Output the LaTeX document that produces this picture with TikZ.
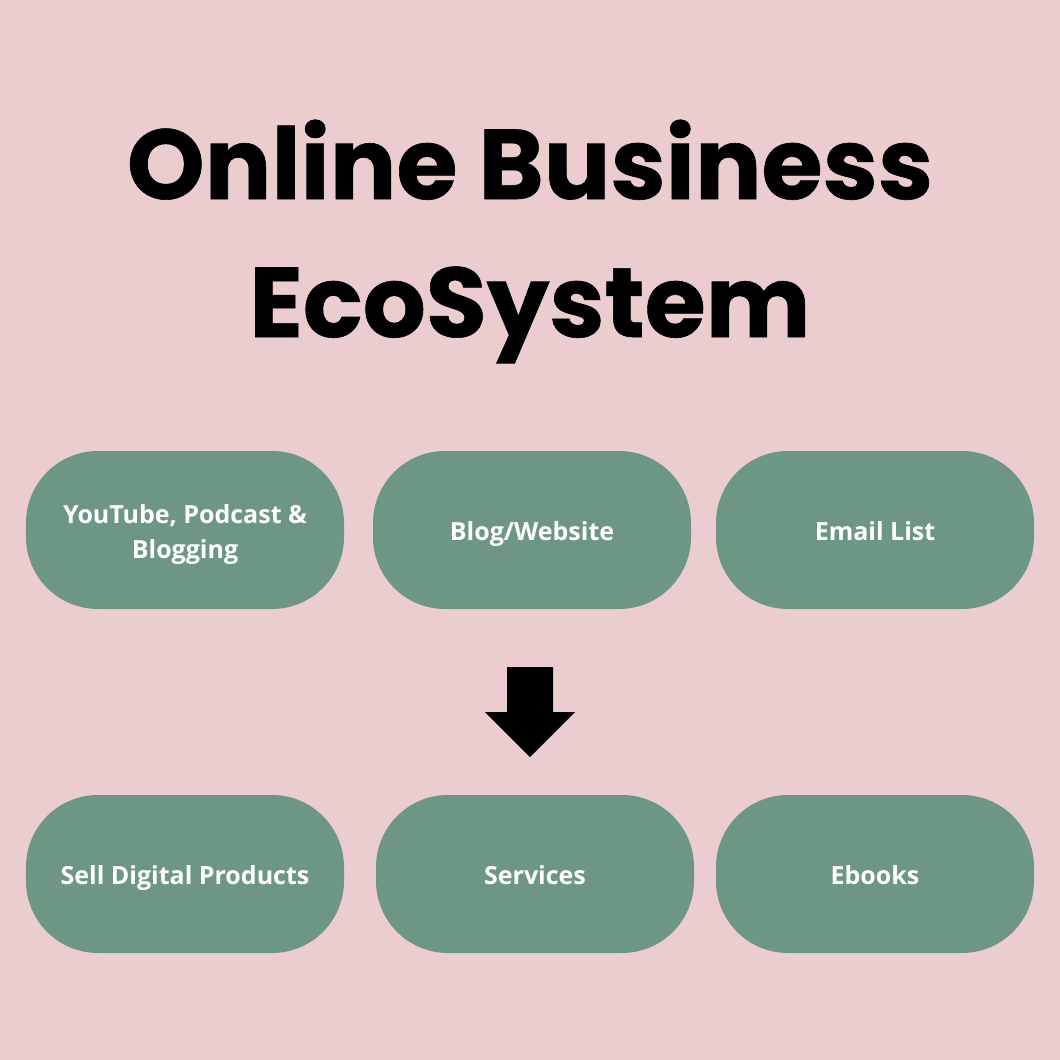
\documentclass[tikz,border=0pt]{standalone}
\usepackage{fontspec}
\setmainfont{Open Sans}
\newfontfamily\titlefont[FakeBold=0.6]{Poppins}
\definecolor{bgpink}{HTML}{EBCDD0}
\definecolor{pillgreen}{HTML}{6E9684}
\begin{document}
\begin{tikzpicture}[x=1bp,y=-1bp,
  pill/.style={fill=pillgreen, draw=none, rounded corners=72bp,
    minimum width=318bp, minimum height=158bp, inner sep=0pt},
  pilltext/.style={anchor=base, inner sep=0pt, text=white, align=center,
    font=\fontsize{25bp}{35bp}\selectfont\bfseries},
  titleline/.style={anchor=base, inner sep=0pt,
    font=\titlefont\fontsize{99bp}{138bp}\selectfont\bfseries}]
\fill[bgpink] (0,0) rectangle (1060,1060);
\useasboundingbox (0,0) rectangle (1060,1060);
\node[titleline] (t1) at (530,199) {Online Business};
\node[titleline] (t2) at (530,337) {EcoSystem};
\node[pill] (yt) at (185,530) {};
\node[pill] (blog) at (532,530) {};
\node[pill] (email) at (875,530) {};
\node[pill] (sell) at (185,874) {};
\node[pill] (serv) at (535,874) {};
\node[pill] (ebook) at (875,874) {};
\node[pilltext] (yt-t) at (185,558) {YouTube, Podcast \&\\Blogging};
\node[pilltext] (blog-t) at (532,540) {Blog/Website};
\node[pilltext] (email-t) at (875,540) {Email List};
\node[pilltext] (sell-t) at (185,884) {Sell Digital Products};
\node[pilltext] (serv-t) at (535,884) {Services};
\node[pilltext] (ebook-t) at (875,884) {Ebooks};
\fill[black] (507,667) -- (553,667) -- (553,712) -- (575,712) -- (530,757)
  -- (485,712) -- (507,712) -- cycle;
\end{tikzpicture}
\end{document}
